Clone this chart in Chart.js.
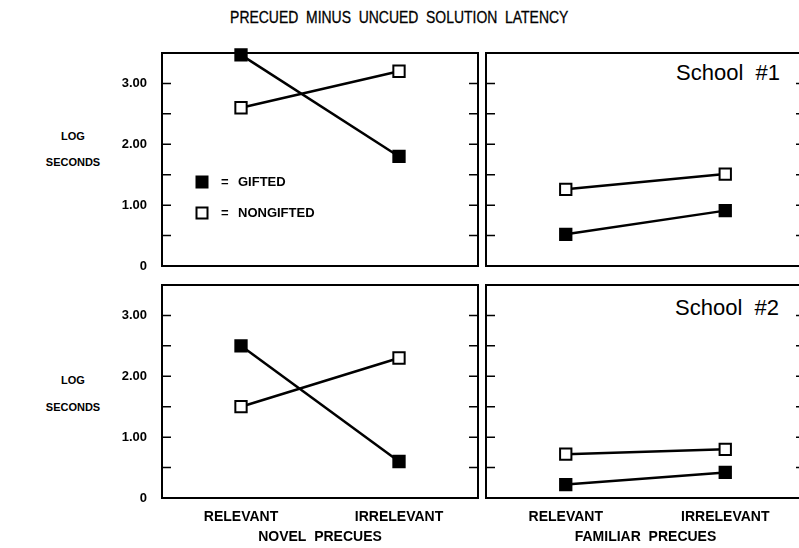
<!DOCTYPE html>
<html>
<head>
<meta charset="utf-8">
<script src="https://cdn.jsdelivr.net/npm/chart.js@4"></script>
<style>
  body { margin: 0; width: 799px; height: 548px; overflow: hidden; background: #fff; position: relative; font-family: 'Liberation Sans', Arial, sans-serif; color: #000; }
  canvas { position: absolute; }
  .txt { position: absolute; white-space: pre; line-height: 1; }
  .side { font-size: 11px; font-weight: bold; text-align: center; width: 80px; }
  #title { left: 0; width: 799px; text-align: center; top: 9px; }
  #title span { display: inline-block; font-size: 17px; transform: scaleX(0.82); -webkit-text-stroke: 0.3px #000; }
</style>
</head>
<body>
<div class="txt" id="title"><span>PRECUED  MINUS  UNCUED  SOLUTION  LATENCY</span></div>
<div class="txt side" style="left:33px;top:131px;">LOG</div>
<div class="txt side" style="left:33px;top:157px;">SECONDS</div>
<div class="txt side" style="left:33px;top:375px;">LOG</div>
<div class="txt side" style="left:33px;top:402px;">SECONDS</div>
<div class="txt" style="left:676px;top:62px;font-size:22px;">School  #1</div>
<div class="txt" style="left:675px;top:297px;font-size:22px;">School  #2</div>

<canvas id="c1" width="490" height="240" style="left:0;top:40px"></canvas>
<canvas id="c2" width="345" height="240" style="left:474px;top:40px"></canvas>
<canvas id="c3" width="490" height="276" style="left:0;top:272px"></canvas>
<canvas id="c4" width="345" height="276" style="left:474px;top:272px"></canvas>

<script>
// categorie e valori (log secondi)
const conditions = ['RELEVANT', 'IRRELEVANT']
const groups = ['GIFTED', 'NONGIFTED']

const school1NovelGifted = [3.47, 1.8]
const school1NovelNongifted = [2.6, 3.2]
const school1FamiliarGifted = [0.52, 0.91]
const school1FamiliarNongifted = [1.26, 1.51]

const school2NovelGifted = [2.5, 0.6]
const school2NovelNongifted = [1.5, 2.3]
const school2FamiliarGifted = [0.22, 0.42]
const school2FamiliarNongifted = [0.72, 0.8]

const yMin = 0
const yMax = 3.5
const yStep = 0.5

Chart.defaults.font.family = "'Liberation Sans', Arial, sans-serif"
Chart.defaults.color = '#000'

// cornice del pannello con tacche verso l'interno
const panelFrame = {
  id: 'panelFrame',
  afterDraw: function (chart) {
    const ctx = chart.ctx
    const a = chart.chartArea
    const y = chart.scales.y
    ctx.save()
    ctx.strokeStyle = '#000'
    ctx.lineWidth = 2
    ctx.strokeRect(a.left, a.top, a.right - a.left, a.bottom - a.top)
    ctx.lineWidth = 1.5
    y.ticks.forEach(function (t) {
      if (t.value <= yMin || t.value >= yMax) return
      const py = y.getPixelForValue(t.value)
      ctx.beginPath()
      ctx.moveTo(a.left, py)
      ctx.lineTo(a.left + 9, py)
      ctx.moveTo(a.right, py)
      ctx.lineTo(a.right - 9, py)
      ctx.stroke()
    })
    ctx.restore()
  },
}

// legenda dentro il primo pannello
const innerLegend = {
  id: 'innerLegend',
  afterDraw: function (chart) {
    if (!chart.options.plugins.innerLegend.show) return
    const ctx = chart.ctx
    const a = chart.chartArea
    ctx.save()
    ctx.font = "bold 13px 'Liberation Sans', Arial, sans-serif"
    ctx.textBaseline = 'middle'
    chart.data.datasets.forEach(function (ds, i) {
      const cx = a.left + 40
      const cy = a.top + 129 + i * 31
      ctx.fillStyle = ds.pointBackgroundColor
      ctx.strokeStyle = '#000'
      ctx.lineWidth = 2
      ctx.fillRect(cx - 5.5, cy - 5.5, 11, 11)
      ctx.strokeRect(cx - 5.5, cy - 5.5, 11, 11)
      ctx.fillStyle = '#000'
      ctx.fillText('=', cx + 19, cy)
      ctx.fillText(ds.label, cx + 36, cy)
    })
    ctx.restore()
  },
}

function makeDatasets(gifted, nongifted) {
  return [
    {
      label: groups[0],
      data: gifted,
      borderColor: '#000',
      borderWidth: 2.5,
      pointStyle: 'rect',
      pointRadius: 8,
      pointBorderWidth: 2,
      pointBorderColor: '#000',
      pointBackgroundColor: '#000',
    },
    {
      label: groups[1],
      data: nongifted,
      borderColor: '#000',
      borderWidth: 2.5,
      pointStyle: 'rect',
      pointRadius: 8,
      pointBorderWidth: 2,
      pointBorderColor: '#000',
      pointBackgroundColor: '#fff',
    },
  ]
}

function makePanel(id, gifted, nongifted, opts) {
  const ctx = document.getElementById(id).getContext('2d')
  return new Chart(ctx, {
    type: 'line',
    data: { labels: conditions, datasets: makeDatasets(gifted, nongifted) },
    options: {
      responsive: false,
      animation: false,
      events: [],
      clip: false,
      layout: { padding: opts.padding },
      plugins: {
        legend: { display: false },
        tooltip: { enabled: false },
        innerLegend: { show: !!opts.legend },
      },
      scales: {
        x: {
          type: 'category',
          offset: true,
          display: opts.showX,
          grid: { display: false, drawTicks: false },
          border: { display: false },
          ticks: { padding: 11, font: { size: 14, weight: 'bold' }, maxRotation: 0 },
          title: {
            display: true,
            text: opts.xTitle || '',
            font: { size: 14, weight: 'bold' },
            padding: { top: 0, bottom: 2 },
          },
          afterFit: function (scale) {
            if (opts.showX) scale.height = 50
          },
        },
        y: {
          min: yMin,
          max: yMax,
          display: opts.showY,
          grid: { display: false, drawTicks: false },
          border: { display: false },
          ticks: {
            stepSize: yStep,
            padding: 15,
            font: { size: 13, weight: 'bold' },
            callback: function (v) {
              if (v % 1 !== 0) return ''
              return v === 0 ? '0' : v.toFixed(2)
            },
          },
          afterFit: function (scale) {
            if (!opts.showY) return
            scale.width = 162
            scale.paddingTop = 0
            scale.paddingBottom = 0
          },
        },
      },
    },
    plugins: [panelFrame, innerLegend],
  })
}

makePanel('c1', school1NovelGifted, school1NovelNongifted, {
  padding: { top: 13, right: 12, bottom: 14, left: 0 },
  showX: false, showY: true, legend: true,
})
makePanel('c2', school1FamiliarGifted, school1FamiliarNongifted, {
  padding: { top: 13, right: 14, bottom: 14, left: 12 },
  showX: false, showY: false,
})
makePanel('c3', school2NovelGifted, school2NovelNongifted, {
  padding: { top: 13, right: 12, bottom: 0, left: 0 },
  showX: true, showY: true, xTitle: 'NOVEL  PRECUES',
})
makePanel('c4', school2FamiliarGifted, school2FamiliarNongifted, {
  padding: { top: 13, right: 14, bottom: 0, left: 12 },
  showX: true, showY: false, xTitle: 'FAMILIAR  PRECUES',
})
</script>
</body>
</html>
